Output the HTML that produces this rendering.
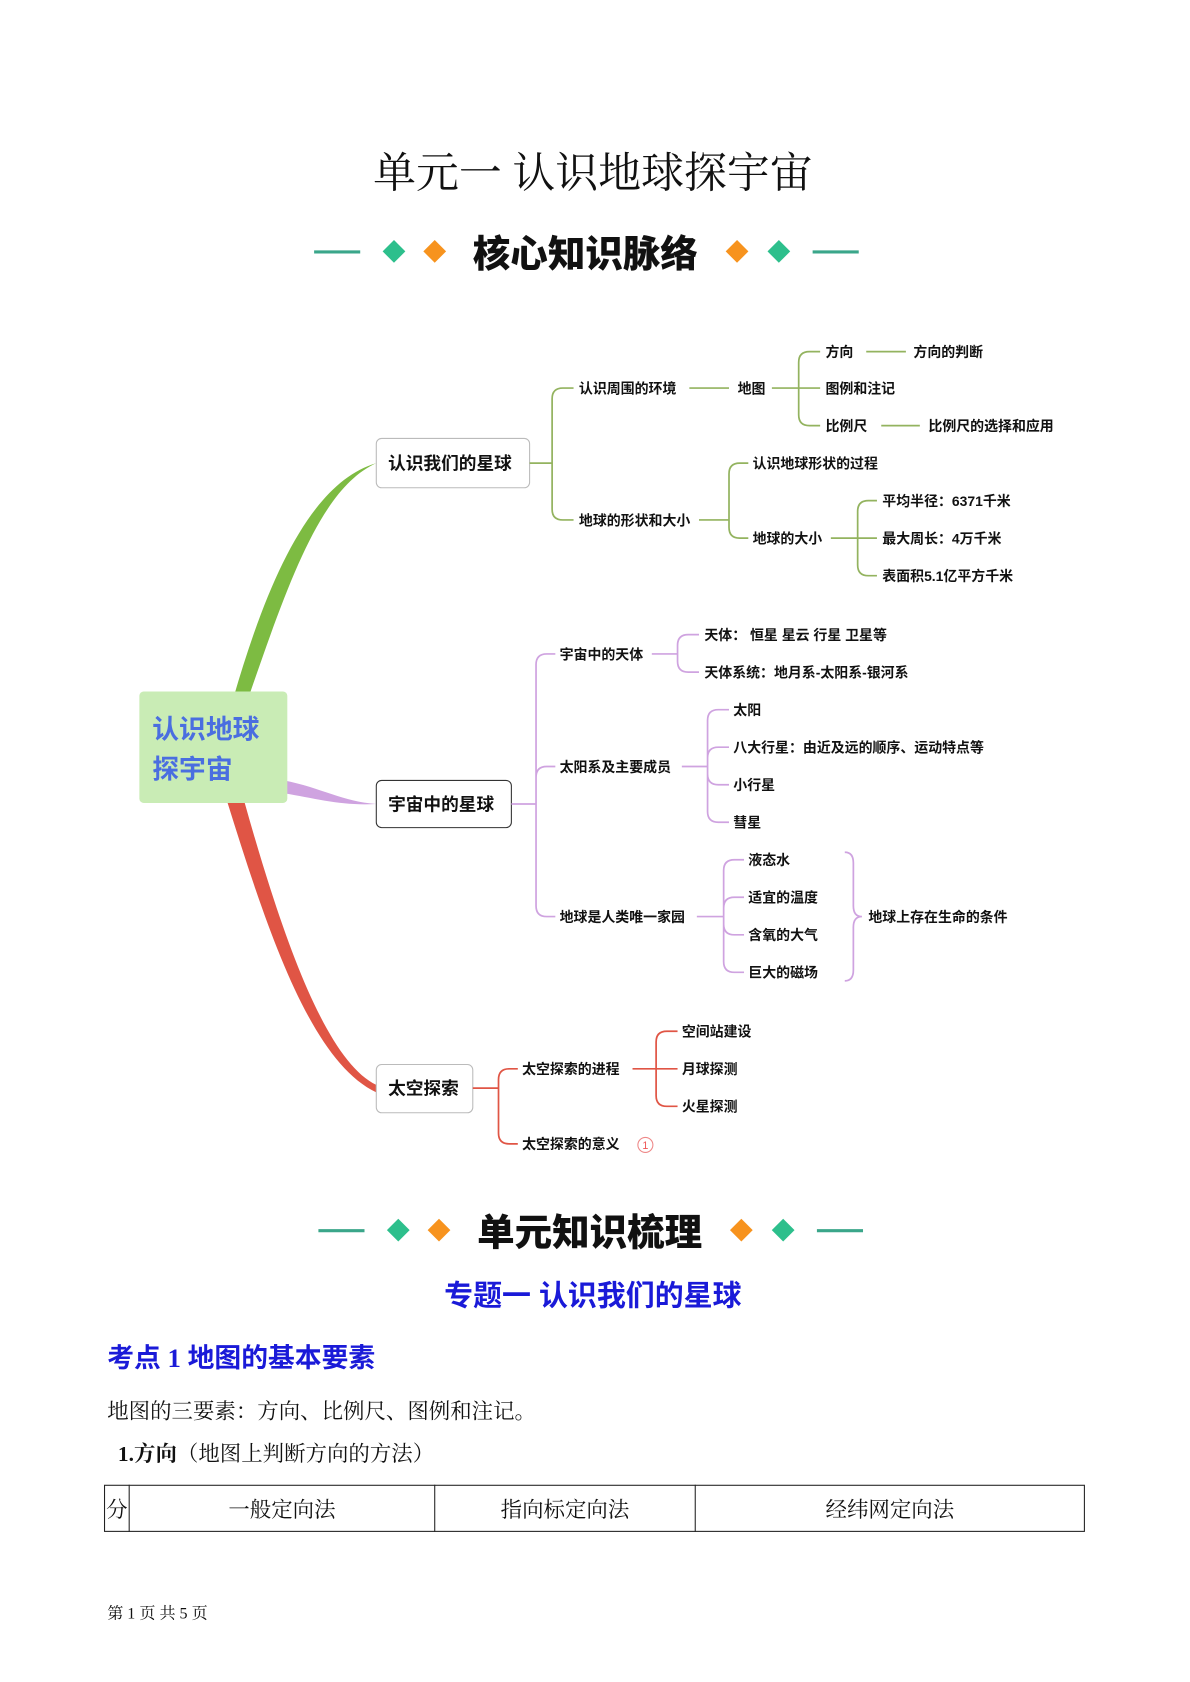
<!DOCTYPE html>
<html><head><meta charset="utf-8">
<style>
html,body{margin:0;padding:0;background:#fff;}
svg{display:block;}
.s{font-family:"Liberation Sans","Noto Sans CJK SC",sans-serif;font-weight:bold;font-size:13px;fill:#111;}
.n{font-family:"Liberation Sans","Noto Sans CJK SC",sans-serif;font-weight:bold;font-size:16.5px;fill:#111;}
.h{font-family:"Liberation Sans","Noto Sans CJK SC",sans-serif;font-weight:900;font-size:35px;fill:#111;}
.sr{font-family:"Liberation Serif","Noto Serif CJK SC",serif;fill:#111;}
</style></head>
<body>
<svg width="1190" height="1682" viewBox="0 0 1110 1569" preserveAspectRatio="none" xmlns="http://www.w3.org/2000/svg">
<text x="553" y="175" text-anchor="middle" class="sr" font-size="40">单元一  认识地球探宇宙</text>

<g>
<line x1="293" y1="235" x2="336" y2="235" stroke="#3aa68a" stroke-width="3"/>
<rect x="360" y="227" width="15" height="15" fill="#2dbf8c" transform="rotate(45 367.5 234.5)"/>
<rect x="398" y="227" width="15" height="15" fill="#f7931e" transform="rotate(45 405.5 234.5)"/>
<text x="546" y="249" text-anchor="middle" class="h">核心知识脉络</text>
<rect x="680" y="227" width="15" height="15" fill="#f7931e" transform="rotate(45 687.5 234.5)"/>
<rect x="719" y="227" width="15" height="15" fill="#2dbf8c" transform="rotate(45 726.5 234.5)"/>
<line x1="758" y1="235" x2="801" y2="235" stroke="#3aa68a" stroke-width="3"/>
</g>

<path d="M218 650 C250 540 290 450 351 432 C300 455 270 540 232 650 Z" fill="#7dbb42"/>
<path d="M265 728 C300 735 320 748 351 750 C320 752 295 745 265 740 Z" fill="#cfa3e0"/>
<path d="M212 748 C250 870 290 990 351 1019 L351 1012 C305 990 265 880 228 748 Z" fill="#e05545"/>

<rect x="130" y="645" width="138" height="104" rx="4" fill="#c9ecb5"/>
<text x="142" y="689" font-family="Liberation Sans,Noto Sans CJK SC,sans-serif" font-weight="bold" font-size="25" fill="#4a6ee0">认识地球</text>
<text x="142" y="726" font-family="Liberation Sans,Noto Sans CJK SC,sans-serif" font-weight="bold" font-size="25" fill="#4a6ee0">探宇宙</text>

<rect x="351" y="409" width="143" height="46" rx="5" fill="#fff" stroke="#bbb"/>
<text x="362" y="438" class="n">认识我们的星球</text>
<rect x="351" y="728" width="126" height="44" rx="5" fill="#fff" stroke="#333"/>
<text x="362" y="756" class="n">宇宙中的星球</text>
<rect x="351" y="993" width="90" height="45" rx="5" fill="#fff" stroke="#bbb"/>
<text x="362" y="1021" class="n">太空探索</text>

<g fill="none" stroke="#93b35f" stroke-width="1.6">
<path d="M494 432 H515 M515 432 V372 Q515 362 525 362 H535 M515 432 V475 Q515 485 525 485 H535"/>
<path d="M643 362 H680"/>
<path d="M720 362 H745 M745 362 V338 Q745 328 755 328 H765 M745 362 H765 M745 362 V387 Q745 397 755 397 H765"/>
<path d="M808 328 H845 M822 397 H858"/>
<path d="M652 485 H680 M680 485 V442 Q680 432 690 432 H698 M680 485 V492 Q680 502 690 502 H698"/>
<path d="M775 502 H800 M800 502 V477 Q800 467 810 467 H818 M800 502 H818 M800 502 V527 Q800 537 810 537 H818"/>
</g>
<text x="540" y="367" class="s">认识周围的环境</text>
<text x="688" y="367" class="s">地图</text>
<text x="770" y="333" class="s">方向</text>
<text x="852" y="333" class="s">方向的判断</text>
<text x="770" y="367" class="s">图例和注记</text>
<text x="770" y="402" class="s">比例尺</text>
<text x="866" y="402" class="s">比例尺的选择和应用</text>
<text x="540" y="490" class="s">地球的形状和大小</text>
<text x="702" y="437" class="s">认识地球形状的过程</text>
<text x="702" y="507" class="s">地球的大小</text>
<text x="823" y="472" class="s">平均半径：6371千米</text>
<text x="823" y="507" class="s">最大周长：4万千米</text>
<text x="823" y="542" class="s">表面积5.1亿平方千米</text>

<g fill="none" stroke="#cfa3e0" stroke-width="1.6">
<path d="M477 750 H500 M500 750 V620 Q500 610 510 610 H518 M500 750 V725 Q500 715 510 715 H518 M500 750 V845 Q500 855 510 855 H518"/>
<path d="M608 610 H632 M632 610 V602 Q632 592 642 592 H652 M632 610 V617 Q632 627 642 627 H652"/>
<path d="M636 715 H660 M660 715 V672 Q660 662 670 662 H680 M660 715 V707 Q660 697 670 697 H680 M660 715 V722 Q660 732 670 732 H680 M660 715 V757 Q660 767 670 767 H680"/>
<path d="M650 855 H675 M675 855 V812 Q675 802 685 802 H694 M675 855 V847 Q675 837 685 837 H694 M675 855 V862 Q675 872 685 872 H694 M675 855 V897 Q675 907 685 907 H694"/>
<path d="M788 795 Q796 795 796 805 V845 Q796 855 804 855 Q796 855 796 865 V905 Q796 915 788 915"/>
</g>
<text x="522" y="615" class="s">宇宙中的天体</text>
<text x="657" y="597" class="s">天体： 恒星 星云 行星 卫星等</text>
<text x="657" y="632" class="s">天体系统：地月系-太阳系-银河系</text>
<text x="522" y="720" class="s">太阳系及主要成员</text>
<text x="684" y="667" class="s">太阳</text>
<text x="684" y="702" class="s">八大行星：由近及远的顺序、运动特点等</text>
<text x="684" y="737" class="s">小行星</text>
<text x="684" y="772" class="s">彗星</text>
<text x="522" y="860" class="s">地球是人类唯一家园</text>
<text x="698" y="807" class="s">液态水</text>
<text x="698" y="842" class="s">适宜的温度</text>
<text x="698" y="877" class="s">含氧的大气</text>
<text x="698" y="912" class="s">巨大的磁场</text>
<text x="810" y="860" class="s">地球上存在生命的条件</text>

<g fill="none" stroke="#e05545" stroke-width="1.6">
<path d="M441 1015 H465 M465 1015 V1007 Q465 997 475 997 H483 M465 1015 V1057 Q465 1067 475 1067 H483"/>
<path d="M590 997 H612 M612 997 V972 Q612 962 622 962 H632 M612 997 H632 M612 997 V1022 Q612 1032 622 1032 H632"/>
</g>
<circle cx="602" cy="1068" r="7" fill="none" stroke="#e88" stroke-width="1"/>
<text x="602" y="1072" text-anchor="middle" font-family="Liberation Sans,sans-serif" font-size="10" fill="#e55">1</text>
<text x="487" y="1002" class="s">太空探索的进程</text>
<text x="487" y="1072" class="s">太空探索的意义</text>
<text x="636" y="967" class="s">空间站建设</text>
<text x="636" y="1002" class="s">月球探测</text>
<text x="636" y="1037" class="s">火星探测</text>

<g>
<line x1="297" y1="1148" x2="340" y2="1148" stroke="#3aa68a" stroke-width="3"/>
<rect x="364" y="1140" width="15" height="15" fill="#2dbf8c" transform="rotate(45 371.5 1147.5)"/>
<rect x="402" y="1140" width="15" height="15" fill="#f7931e" transform="rotate(45 409.5 1147.5)"/>
<text x="550" y="1162" text-anchor="middle" class="h">单元知识梳理</text>
<rect x="684" y="1140" width="15" height="15" fill="#f7931e" transform="rotate(45 691.5 1147.5)"/>
<rect x="723" y="1140" width="15" height="15" fill="#2dbf8c" transform="rotate(45 730.5 1147.5)"/>
<line x1="762" y1="1148" x2="805" y2="1148" stroke="#3aa68a" stroke-width="3"/>
</g>
<text x="553" y="1218" text-anchor="middle" font-family="Liberation Sans,Noto Sans CJK SC,sans-serif" font-weight="bold" font-size="27" fill="#1a1ad8">专题一  认识我们的星球</text>
<text x="100" y="1275" font-family="Liberation Serif,Noto Sans CJK SC,sans-serif" font-weight="bold" font-size="25" fill="#1a1ad8">考点 1  地图的基本要素</text>
<text x="100" y="1323" class="sr" font-size="20">地图的三要素：方向、比例尺、图例和注记。</text>
<text x="110" y="1363" class="sr" font-size="20"><tspan font-weight="bold">1.方向</tspan>（地图上判断方向的方法）</text>

<g fill="none" stroke="#222" stroke-width="1">
<rect x="97.5" y="1385.5" width="914" height="43"/>
<line x1="120.5" y1="1385" x2="120.5" y2="1429"/>
<line x1="405.5" y1="1385" x2="405.5" y2="1429"/>
<line x1="648.5" y1="1385" x2="648.5" y2="1429"/>
</g>
<text x="99" y="1415" class="sr" font-size="20">分</text>
<text x="263" y="1415" text-anchor="middle" class="sr" font-size="20">一般定向法</text>
<text x="527" y="1415" text-anchor="middle" class="sr" font-size="20">指向标定向法</text>
<text x="830" y="1415" text-anchor="middle" class="sr" font-size="20">经纬网定向法</text>

<text x="100" y="1510" class="sr" font-size="15">第 1 页 共 5 页</text>
</svg>
</body></html>
